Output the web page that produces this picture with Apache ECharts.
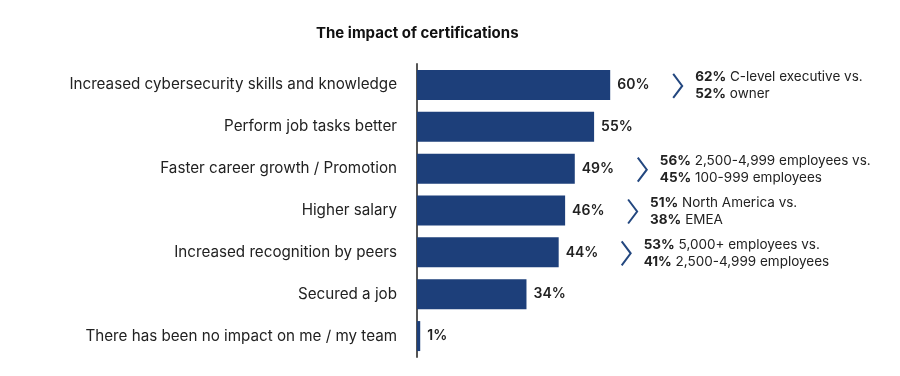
<!DOCTYPE html>
<html>
<head>
<meta charset="utf-8">
<script src="https://cdn.jsdelivr.net/npm/echarts@6/dist/echarts.min.js"></script>
<style>
  html, body { margin: 0; padding: 0; background: #fff; }
  #main { width: 900px; height: 376px; }
</style>
</head>
<body>
<div id="main"></div>
<script>
var categories = [
    'Increased cybersecurity skills and knowledge',
    'Perform job tasks better',
    'Faster career growth / Promotion',
    'Higher salary',
    'Increased recognition by peers',
    'Secured a job',
    'There has been no impact on me / my team'
];
var values = [60, 55, 49, 46, 44, 34, 1];

// notes next to some bars: [row, bold1, rest1, bold2, rest2]
var notes = [
    [0, '62%', ' C-level executive vs.', '52%', ' owner'],
    [2, '56%', ' 2,500-4,999 employees vs.', '45%', ' 100-999 employees'],
    [3, '51%', ' North America vs.', '38%', ' EMEA'],
    [4, '53%', ' 5,000+ employees vs.', '41%', ' 2,500-4,999 employees']
];

var barColor = '#1d3f7a';
var font = 'Inter, "Noto Sans", sans-serif';

var noteData = notes.map(function(n){
    return [values[n[0]], n[0], n[1], n[2], n[3], n[4]];
});

var option = {
    animation: false,
    title: {
        text: 'The impact of certifications',
        left: 311,
        top: 21,
        textStyle: { fontFamily: font, fontSize: 15, fontWeight: 'bold', color: '#111' }
    },
    grid: { left: 417, top: 64, width: 322, height: 293 },
    xAxis: {
        type: 'value',
        min: 0,
        max: 100,
        show: false
    },
    yAxis: {
        type: 'category',
        data: categories,
        inverse: true,
        axisLine: { show: true, lineStyle: { color: '#555', width: 2 } },
        axisTick: { show: false },
        axisLabel: { margin: 20, fontFamily: font, fontSize: 15.2, color: '#222' }
    },
    series: [
        {
            type: 'bar',
            data: values,
            barWidth: 30,
            itemStyle: { color: barColor },
            label: {
                show: true,
                position: 'right',
                distance: 7,
                formatter: '{c}%',
                fontFamily: font,
                fontSize: 14,
                fontWeight: 600,
                color: '#222'
            }
        },
        {
            type: 'custom',
            data: noteData,
            encode: { x: 0, y: 1 },
            z: 5,
            renderItem: function(params, api){
                var p = api.coord([api.value(0), api.value(1)]);
                var d = noteData[params.dataIndex];
                var x0 = p[0] + 63;
                var y0 = p[1] + 1;
                return {
                    type: 'group',
                    children: [
                        {
                            type: 'polyline',
                            shape: { points: [[x0, y0 - 12], [x0 + 9, y0], [x0, y0 + 12]] },
                            style: { stroke: '#23477f', lineWidth: 2, fill: null }
                        },
                        {
                            type: 'text',
                            x: x0 + 22,
                            y: y0,
                            style: {
                                text: '{b|' + d[2] + '}' + d[3] + '\n{b|' + d[4] + '}' + d[5],
                                verticalAlign: 'middle',
                                align: 'left',
                                fontFamily: font,
                                fontSize: 13.5,
                                lineHeight: 17,
                                fill: '#222',
                                rich: {
                                    b: { fontFamily: font, fontSize: 13.5, fontWeight: 'bold', lineHeight: 17, fill: '#222' }
                                }
                            }
                        }
                    ]
                };
            }
        }
    ]
};

var chart = echarts.init(document.getElementById('main'));
chart.setOption(option);
</script>
</body>
</html>
